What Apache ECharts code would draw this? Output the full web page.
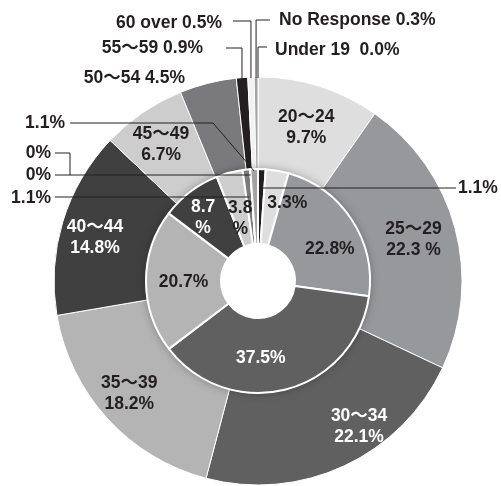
<!DOCTYPE html>
<html>
<head>
<meta charset="utf-8">
<script src="https://cdn.jsdelivr.net/npm/echarts@6/dist/echarts.min.js"></script>
<style>
  html, body { margin: 0; padding: 0; background: #fff; }
  #chart { width: 501px; height: 486px; }
</style>
</head>
<body>
<div id="chart"></div>
<script>
// Age groups, shares in percent (outer ring and inner ring)
const categories = ['Under 19', '20～24', '25～29', '30～34', '35～39', '40～44', '45～49', '50～54', '55～59', '60 over', 'No Response'];
const outerValues = [0.0, 9.7, 22.3, 22.1, 18.2, 14.8, 6.7, 4.5, 0.9, 0.5, 0.3];
const innerValues = [1.1, 3.3, 22.8, 37.5, 20.7, 8.7, 3.8, 1.1, 0, 0, 1.1];
const colors = ['#231f20', '#dedede', '#97989b', '#606060', '#b4b4b4', '#404040', '#cdcdcd', '#7a7a7c', '#231f20', '#f2f2f2', '#a3a3a3'];

// Geometry shared by the rings and the leader lines
const geo = { cx: 258, cy: 281, outerR: 204, midR: 112, holeR: 37 };
const ink = '#231f20';
const font = '"Liberation Sans", Arial, "Noto Sans CJK JP", sans-serif';
const fontSize = 17.5;

// Nudges for labels drawn inside their slices
const outerShift = { 1: [0, 0], 2: [0, 0], 3: [33, 0], 4: [-10, 4], 5: [-9, 4], 6: [-6, -3] };
const innerShift = { 1: [16, -1], 2: [7, 11], 3: [-17, 2], 4: [3, 1], 5: [-8, -2], 6: [2, 13] };
// Labels placed outside, tied back with leader lines
const outerCallouts = {
  0: { x: 275, y: 50, align: 'left' },
  7: { x: 185, y: 78, align: 'right' },
  8: { x: 203, y: 48, align: 'right' },
  9: { x: 222, y: 23, align: 'right' },
  10: { x: 279, y: 20, align: 'left' }
};
const innerCallouts = {
  0: { x: 458, y: 188, align: 'left' },
  7: { x: 51, y: 198, align: 'right' },
  8: { x: 51, y: 153, align: 'right' },
  9: { x: 51, y: 175, align: 'right' },
  10: { x: 65, y: 123, align: 'right' }
};
const whiteText = { 3: true, 5: true };

const sum = a => a.reduce((s, v) => s + v, 0);
function midPoints(values) {
  let c = 0;
  return values.map(v => { const m = c + v / 2; c += v; return m; });
}
function startPoints(values) {
  let c = 0;
  return values.map(v => { const s = c; c += v; return s; });
}
function angleOf(cum, total) { return cum / total * 2 * Math.PI; }
function pointAt(cum, total, r) {
  const a = angleOf(cum, total);
  return [geo.cx + r * Math.sin(a), geo.cy - r * Math.cos(a)];
}
function pointAtY(cum, total, y) {
  const a = angleOf(cum, total);
  const r = (geo.cy - y) / Math.cos(a);
  return [geo.cx + r * Math.sin(a), y];
}
function rimY(x, r) {
  const dx = x - geo.cx;
  return geo.cy - Math.sqrt(r * r - dx * dx);
}

const outerTotal = sum(outerValues);
const innerTotal = sum(innerValues);
const outerMid = midPoints(outerValues);
const innerMid = midPoints(innerValues);
const innerStart = startPoints(innerValues);

function fmt(v) { return v === 0 ? '0%' : v.toFixed(1) + '%'; }

function outerText(i) {
  const v = outerValues[i];
  if (outerCallouts[i]) {
    return categories[i] + (i === 0 ? '  ' : ' ') + v.toFixed(1) + '%';
  }
  return categories[i] + '\n' + v.toFixed(1) + (i === 2 ? ' %' : '%');
}
function innerText(i) {
  const v = innerValues[i];
  if (i === 5 || i === 6) return v.toFixed(1) + '\n%';
  return fmt(v);
}

function makeData(values, textFn) {
  return values.map((v, i) => ({
    name: categories[i],
    value: v,
    itemStyle: { color: colors[i] },
    label: {
      formatter: textFn(i),
      color: whiteText[i] ? '#ffffff' : ink
    }
  }));
}

function layoutFn(shift, callouts) {
  return function (p) {
    const i = p.dataIndex;
    if (callouts[i]) {
      const c = callouts[i];
      return { x: c.x, y: c.y, align: c.align, verticalAlign: 'middle' };
    }
    const s = shift[i] || [0, 0];
    return { dx: s[0], dy: s[1] };
  };
}

const labelBase = {
  show: true,
  position: 'inside',
  fontFamily: font,
  fontSize: fontSize,
  fontWeight: 'bold',
  lineHeight: 21,
  align: 'center'
};

// Leader lines
function polyline(points) {
  return {
    type: 'polyline',
    silent: true,
    z: 100,
    shape: { points: points },
    style: { stroke: ink, lineWidth: 1, fill: null }
  };
}
const lines = [];
// outer ring: vertical drop from the label row onto the rim
[[8, 226, 48], [9, 233, 21], [10, 270, 20], [0, 267, 47]].forEach(([i, x0, y]) => {
  const x = pointAt(outerMid[i], outerTotal, geo.outerR)[0];
  lines.push(polyline([[x0, y], [x, y], [x, rimY(x, geo.outerR) + 1]]));
});
// inner ring
lines.push(polyline([[70, 123], [213, 123], pointAt(innerMid[10], innerTotal, geo.midR - 2)]));
lines.push(polyline([[55, 153], [70, 153], [70, 175]]));
lines.push(polyline([[55, 175], pointAtY(innerStart[8], innerTotal, 175)]));
lines.push(polyline([[55, 197], pointAtY(innerMid[7], innerTotal, 197)]));
lines.push(polyline([[456, 188], pointAtY(innerMid[0], innerTotal, 188)]));

const chart = echarts.init(document.getElementById('chart'), null, { renderer: 'canvas' });
chart.setOption({
  animation: false,
  backgroundColor: '#ffffff',
  series: [
    {
      type: 'pie',
      name: 'outer',
      center: [geo.cx, geo.cy],
      radius: [geo.midR, geo.outerR],
      startAngle: 90,
      clockwise: true,
      avoidLabelOverlap: false,
      silent: true,
      itemStyle: { borderColor: '#ffffff', borderWidth: 1 },
      label: labelBase,
      labelLine: { show: false },
      labelLayout: layoutFn(outerShift, outerCallouts),
      emphasis: { disabled: true },
      data: makeData(outerValues, outerText)
    },
    {
      // soft shade around the inner ring
      type: 'pie',
      name: 'shade',
      center: [geo.cx, geo.cy],
      radius: [0, geo.midR],
      silent: true,
      label: { show: false },
      labelLine: { show: false },
      emphasis: { disabled: true },
      itemStyle: { color: '#ffffff', shadowBlur: 10, shadowColor: 'rgba(0,0,0,0.35)' },
      data: [{ value: 1, name: '' }]
    },
    {
      type: 'pie',
      name: 'inner',
      center: [geo.cx, geo.cy],
      radius: [geo.holeR, geo.midR],
      startAngle: 90,
      clockwise: true,
      avoidLabelOverlap: false,
      silent: true,
      itemStyle: { borderColor: '#ffffff', borderWidth: 2 },
      label: labelBase,
      labelLine: { show: false },
      labelLayout: layoutFn(innerShift, innerCallouts),
      emphasis: { disabled: true },
      data: makeData(innerValues, innerText)
    }
  ],
  graphic: { elements: lines }
});
</script>
</body>
</html>
